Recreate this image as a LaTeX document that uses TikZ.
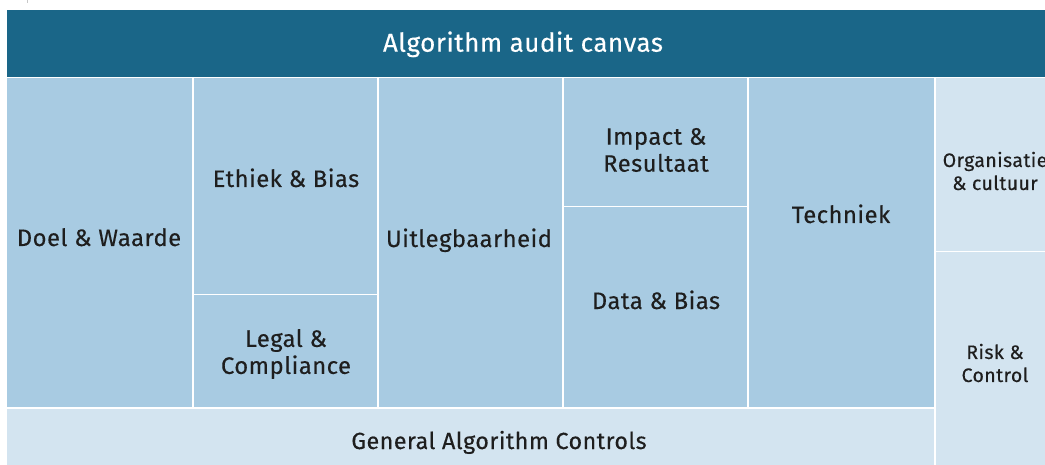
\documentclass[tikz,border=0pt]{standalone}
\usepackage{fontspec}
\setmainfont[LetterSpace=2,FakeBold=0.3]{Fira Sans}
\definecolor{banddark}{HTML}{1A6688}
\definecolor{cellmid}{HTML}{A8CBE2}
\definecolor{celllight}{HTML}{D3E4F0}
\definecolor{tickgray}{HTML}{C8C8C8}
\definecolor{inktext}{HTML}{1E1E1E}
\begin{document}
\begin{tikzpicture}[x=1pt,y=-1pt,
  cellbox/.style={fill=cellmid, draw=none},
  lightbox/.style={fill=celllight, draw=none},
  lbl/.style={text=inktext, font=\fontsize{23.8}{27}\selectfont, align=center, inner sep=0pt},
  smalllbl/.style={text=inktext, font=\fontsize{19.5}{23}\selectfont, align=center, inner sep=0pt}]
\useasboundingbox[fill=white] (0,0) rectangle (1045,465);
\begin{scope}
\clip (0,0) rectangle (1045,465);
% small mark in the top margin
\draw[tickgray, line width=1.6pt] (27.5,0) -- (27.5,3.5);
% title band
\path[fill=banddark] (7,10) rectangle (1052,77);
\node[anchor=base, text=white, font=\fontsize{26}{30}\selectfont, inner sep=0pt] (title) at (523,51.7) {Algorithm audit canvas};
% main cells
\path[cellbox] (7,78) rectangle (192,407);
\path[cellbox] (193.5,78) rectangle (377,294);
\path[cellbox] (193.5,295.5) rectangle (377,407);
\path[cellbox] (378.5,78) rectangle (562,407);
\path[cellbox] (563.5,78) rectangle (747,206);
\path[cellbox] (563.5,207.5) rectangle (747,407);
\path[cellbox] (748.5,78) rectangle (934,407);
% lighter column and bottom row
\path[lightbox] (935.5,78) rectangle (1060,251);
\path[lightbox] (935.5,252.5) rectangle (1060,470);
\path[lightbox] (7,408.5) rectangle (934,470);
% labels
\node[lbl, anchor=base] (doel) at (99,246) {Doel \& Waarde};
\node[lbl, anchor=base] (ethiek) at (286,187) {Ethiek \& Bias};
\node[lbl] (legal) at (286,354) {Legal \&\\Compliance};
\node[lbl, anchor=base] (uitleg) at (469,247) {Uitlegbaarheid};
\node[lbl] (impact) at (656,150) {Impact \&\\Resultaat};
\node[lbl, anchor=base] (data) at (656,309) {Data \& Bias};
\node[lbl, anchor=base] (techniek) at (841,223) {Techniek};
\node[smalllbl] (organisatie) at (995,171) {Organisatie\\\& cultuur};
\node[smalllbl] (risk) at (995,363) {Risk \&\\Control};
\node[lbl, font=\fontsize{23.3}{24}\selectfont, anchor=base] (general) at (499,449) {General Algorithm Controls};
\end{scope}
\end{tikzpicture}
\end{document}
